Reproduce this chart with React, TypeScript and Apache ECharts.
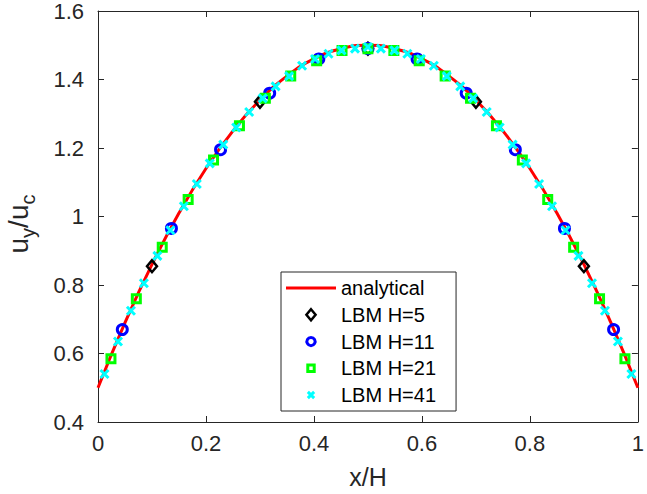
import React, { useEffect, useRef } from "react";
import * as echarts from "echarts";

// analytical profile
const analyticalX = [0, 0.05, 0.1, 0.15, 0.2, 0.25, 0.3, 0.35, 0.4, 0.45, 0.5, 0.55, 0.6, 0.65, 0.7, 0.75, 0.8, 0.85, 0.9, 0.95, 1];
const analyticalY = [0.5, 0.69, 0.86, 1.01, 1.14, 1.25, 1.34, 1.41, 1.46, 1.49, 1.5, 1.49, 1.46, 1.41, 1.34, 1.25, 1.14, 1.01, 0.86, 0.69, 0.5];

const h5X = [0.1, 0.3, 0.5, 0.7, 0.9];
const h5Y = [0.855, 1.335, 1.49, 1.335, 0.855];

const h11X = [0.045, 0.136, 0.227, 0.318, 0.409, 0.5, 0.591, 0.682, 0.773, 0.864, 0.955];
const h11Y = [0.67, 0.965, 1.195, 1.36, 1.46, 1.49, 1.46, 1.36, 1.195, 0.965, 0.67];

const h21X = [0.024, 0.071, 0.119, 0.167, 0.214, 0.262, 0.31, 0.357, 0.405, 0.452, 0.5, 0.548, 0.595, 0.643, 0.69, 0.738, 0.786, 0.833, 0.881, 0.929, 0.976];
const h21Y = [0.585, 0.76, 0.91, 1.05, 1.165, 1.265, 1.345, 1.41, 1.455, 1.485, 1.49, 1.485, 1.455, 1.41, 1.345, 1.265, 1.165, 1.05, 0.91, 0.76, 0.585];

const h41X = [0.012, 0.037, 0.061, 0.085, 0.11, 0.134, 0.159, 0.183, 0.207, 0.232, 0.256, 0.28, 0.305, 0.329, 0.354, 0.378, 0.402, 0.427, 0.451, 0.476, 0.5, 0.524, 0.549, 0.573, 0.598, 0.622, 0.646, 0.671, 0.695, 0.72, 0.744, 0.768, 0.793, 0.817, 0.841, 0.866, 0.89, 0.915, 0.939, 0.963, 0.988];
const h41Y = [0.54, 0.635, 0.725, 0.805, 0.885, 0.96, 1.03, 1.095, 1.155, 1.21, 1.26, 1.305, 1.345, 1.38, 1.41, 1.44, 1.46, 1.475, 1.485, 1.49, 1.495, 1.49, 1.485, 1.475, 1.46, 1.44, 1.41, 1.38, 1.345, 1.305, 1.26, 1.21, 1.155, 1.095, 1.03, 0.96, 0.885, 0.805, 0.725, 0.635, 0.54];

const seriesNames = ["analytical", "LBM H=5", "LBM H=11", "LBM H=21", "LBM H=41"];

const zip = (xs: number[], ys: number[]) => xs.map((x, i) => [x, ys[i]]);

const FONT = "'Liberation Sans', Arial, Helvetica, sans-serif";
const AX = "#262626";

const CROSS = "path://M0,0L10,10M10,0L0,10";
const DIAMOND = "path://M5,0L10,6L5,12L0,6Z";

export default function App() {
  const ref = useRef<HTMLDivElement>(null);
  useEffect(() => {
    if (!ref.current) return;
    const chart = echarts.init(ref.current, undefined, { renderer: "svg" });
    const axisCommon = {
      axisLine: { show: true, onZero: false, lineStyle: { color: AX, width: 1 } },
      axisTick: { show: true, inside: true, length: 6, lineStyle: { color: AX, width: 1 } },
      splitLine: { show: false },
    };
    chart.setOption({
      animation: false,
      backgroundColor: "#fff",
      grid: { left: 98, right: 0, top: 11, bottom: 66, containLabel: false },
      xAxis: [
        {
          type: "value", min: 0, max: 1, interval: 0.2, position: "bottom",
          ...axisCommon,
          axisLabel: { fontSize: 22, color: AX, margin: 10, fontFamily: FONT },
          name: "x/H", nameLocation: "middle", nameGap: 42,
          nameTextStyle: { fontSize: 25, color: AX, fontFamily: FONT },
        },
        {
          type: "value", min: 0, max: 1, interval: 0.2, position: "top",
          ...axisCommon,
          axisLabel: { show: false },
        },
      ],
      yAxis: [
        {
          type: "value", min: 0.4, max: 1.6, interval: 0.2, position: "left",
          ...axisCommon,
          axisLabel: { fontSize: 22, color: AX, margin: 14, fontFamily: FONT },
        },
        {
          type: "value", min: 0.4, max: 1.6, interval: 0.2, position: "right",
          ...axisCommon,
          axisLabel: { show: false },
        },
      ],
      legend: {
        orient: "vertical",
        left: 281,
        top: 272,
        padding: [6, 20, 6, 5],
        itemWidth: 50,
        itemHeight: 11,
        itemGap: 6.75,
        backgroundColor: "#fff",
        borderColor: AX,
        borderWidth: 1,
        borderRadius: 0,
        selectedMode: false,
        symbolKeepAspect: true,
        textStyle: { fontSize: 20, color: "#000", fontFamily: FONT },
        data: [
          { name: seriesNames[0], icon: "path://M0,0L50,0L50,3L0,3Z", itemStyle: { color: "#ff0000", borderWidth: 0 } },
          { name: seriesNames[1], icon: DIAMOND, itemStyle: { borderWidth: 2.5 } },
          { name: seriesNames[2], icon: "path://M0,0M12,12M6,1.5A4.5,4.5,0,1,1,5.99,1.5Z", itemStyle: { borderWidth: 3 } },
          { name: seriesNames[3], icon: "path://M0,0M12,12M2.5,2.5L9.5,2.5L9.5,9.5L2.5,9.5Z", itemStyle: { borderWidth: 3 } },
          { name: seriesNames[4], icon: "path://M0,0M14,14M3,3L11,11M11,3L3,11", itemStyle: { borderWidth: 3 } },
        ],
      },
      graphic: [
        {
          type: "text",
          x: 21,
          y: 224,
          rotation: Math.PI / 2,
          style: {
            text: "{m|u}{s|y}{m|/u}{s|c}",
            align: "center",
            verticalAlign: "middle",
            rich: {
              m: { fontSize: 28, fontFamily: FONT, fill: AX, verticalAlign: "top", lineHeight: 30 },
              s: { fontSize: 20, fontFamily: FONT, fill: AX, verticalAlign: "bottom", lineHeight: 34 },
            },
          },
        },
      ],
      series: [
        {
          name: seriesNames[0], type: "line", data: zip(analyticalX, analyticalY),
          smooth: true, symbol: "none", lineStyle: { color: "#ff0000", width: 3 },
          itemStyle: { color: "#ff0000" }, z: 2,
        },
        {
          name: seriesNames[1], type: "scatter", data: zip(h5X, h5Y),
          symbol: DIAMOND, symbolSize: [10, 12], symbolKeepAspect: false,
          itemStyle: { color: "rgba(0,0,0,0)", borderColor: "#000", borderWidth: 2.5, opacity: 1 }, z: 3,
        },
        {
          name: seriesNames[2], type: "scatter", data: zip(h11X, h11Y),
          symbol: "circle", symbolSize: 10,
          itemStyle: { color: "rgba(0,0,0,0)", borderColor: "#0000ff", borderWidth: 3, opacity: 1 }, z: 4,
        },
        {
          name: seriesNames[3], type: "scatter", data: zip(h21X, h21Y),
          symbol: "rect", symbolSize: 8,
          itemStyle: { color: "rgba(0,0,0,0)", borderColor: "#00ff00", borderWidth: 3, opacity: 1 }, z: 5,
        },
        {
          name: seriesNames[4], type: "scatter", data: zip(h41X, h41Y),
          symbol: CROSS, symbolSize: 8,
          itemStyle: { color: "#00ffff", borderColor: "#00ffff", borderWidth: 3, opacity: 1 }, z: 6,
        },
      ],
    });
    return () => chart.dispose();
  }, []);
  return <div ref={ref} style={{ position: "fixed", left: 0, top: 0, width: 647, height: 494 }} />;
}
